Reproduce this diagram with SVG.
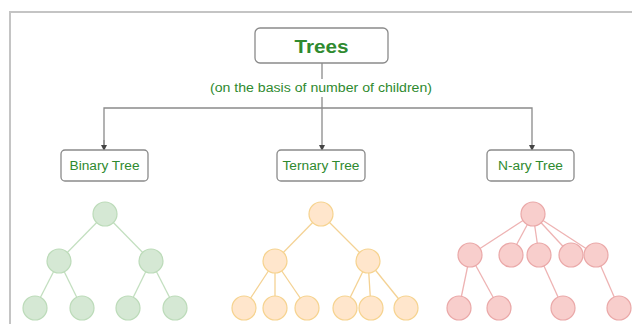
<svg xmlns="http://www.w3.org/2000/svg" width="632" height="324" viewBox="0 0 632 324">
  <defs>
    <marker id="arrow" viewBox="0 0 6 6" refX="5" refY="3" markerWidth="6" markerHeight="6" orient="auto" markerUnits="userSpaceOnUse">
      <path d="M0,0 L6,3 L0,6 Z" fill="#444"/>
    </marker>
    <style>
      .frame { fill: none; stroke: #c4c4c4; stroke-width: 2; }
      .box { fill: #fff; stroke: #8a8a8a; stroke-width: 1.3; }
      .conn { fill: none; stroke: #8a8a8a; stroke-width: 1.3; }
      .label { font-family: "Liberation Sans", Arial, sans-serif; fill: #2f8a2f; text-anchor: middle; }
      .title { font-size: 19px; font-weight: bold; }
      .sub { font-size: 12.5px; }
      .note { font-size: 12px; }
      .g circle { fill: #d5e8d4; stroke: #bcdbb9; stroke-width: 1.2; }
      .g line { stroke: #c3dfc0; stroke-width: 1.3; }
      .o circle { fill: #ffe6cc; stroke: #f6d38f; stroke-width: 1.2; }
      .o line { stroke: #f4d294; stroke-width: 1.3; }
      .r circle { fill: #f8cecc; stroke: #eaa8a8; stroke-width: 1.2; }
      .r line { stroke: #eeb3b3; stroke-width: 1.3; }
    </style>
  </defs>

  <rect width="632" height="324" fill="#fff"/>
  <!-- outer frame -->
  <path class="frame" d="M10,324 V12 H632"/>

  <!-- connectors -->
  <g id="connectors">
    <line class="conn" x1="322" y1="63" x2="322" y2="79"/>
    <line class="conn" x1="322" y1="97" x2="322" y2="150" marker-end="url(#arrow)"/>
    <path class="conn" d="M104,150 V108 H532 V150" marker-end="url(#arrow)"/>
    <line class="conn" x1="104" y1="140" x2="104" y2="150" marker-end="url(#arrow)"/>
  </g>

  <g id="trees-root">
    <rect class="box" x="255" y="28" width="133" height="35" rx="5"/>
    <text class="label title" x="321.5" y="53" textLength="54" lengthAdjust="spacingAndGlyphs">Trees</text>
  </g>
  <text class="label note" x="321" y="92" textLength="222" lengthAdjust="spacingAndGlyphs">(on the basis of number of children)</text>

  <g id="binary-label">
    <rect class="box" x="61" y="150" width="87" height="31" rx="4"/>
    <text class="label sub" x="104.5" y="170" textLength="70" lengthAdjust="spacingAndGlyphs">Binary Tree</text>
  </g>
  <g id="ternary-label">
    <rect class="box" x="277" y="150" width="88" height="31" rx="4"/>
    <text class="label sub" x="321" y="170" textLength="77" lengthAdjust="spacingAndGlyphs">Ternary Tree</text>
  </g>
  <g id="nary-label">
    <rect class="box" x="487" y="150" width="87" height="31" rx="4"/>
    <text class="label sub" x="530.5" y="170" textLength="65" lengthAdjust="spacingAndGlyphs">N-ary Tree</text>
  </g>

  <!-- binary tree -->
  <g id="binary-tree" class="g">
    <line x1="105" y1="214" x2="59" y2="261"/>
    <line x1="105" y1="214" x2="151" y2="261"/>
    <line x1="59" y1="261" x2="35" y2="308"/>
    <line x1="59" y1="261" x2="82" y2="308"/>
    <line x1="151" y1="261" x2="128" y2="308"/>
    <line x1="151" y1="261" x2="175" y2="308"/>
    <circle cx="105" cy="214" r="12"/>
    <circle cx="59" cy="261" r="12"/>
    <circle cx="151" cy="261" r="12"/>
    <circle cx="35" cy="308" r="12"/>
    <circle cx="82" cy="308" r="12"/>
    <circle cx="128" cy="308" r="12"/>
    <circle cx="175" cy="308" r="12"/>
  </g>

  <!-- ternary tree -->
  <g id="ternary-tree" class="o">
    <line x1="321" y1="214" x2="275" y2="261"/>
    <line x1="321" y1="214" x2="368" y2="261"/>
    <line x1="275" y1="261" x2="244" y2="308"/>
    <line x1="275" y1="261" x2="275" y2="308"/>
    <line x1="275" y1="261" x2="307" y2="308"/>
    <line x1="368" y1="261" x2="345" y2="308"/>
    <line x1="368" y1="261" x2="371" y2="308"/>
    <line x1="368" y1="261" x2="406" y2="308"/>
    <circle cx="321" cy="214" r="12"/>
    <circle cx="275" cy="261" r="12"/>
    <circle cx="368" cy="261" r="12"/>
    <circle cx="244" cy="308" r="12"/>
    <circle cx="275" cy="308" r="12"/>
    <circle cx="307" cy="308" r="12"/>
    <circle cx="345" cy="308" r="12"/>
    <circle cx="371" cy="308" r="12"/>
    <circle cx="406" cy="308" r="12"/>
  </g>

  <!-- n-ary tree -->
  <g id="nary-tree" class="r">
    <line x1="533" y1="214" x2="470" y2="255"/>
    <line x1="533" y1="214" x2="511" y2="255"/>
    <line x1="533" y1="214" x2="539" y2="255"/>
    <line x1="533" y1="214" x2="571" y2="255"/>
    <line x1="533" y1="214" x2="596" y2="255"/>
    <line x1="470" y1="255" x2="459" y2="308"/>
    <line x1="470" y1="255" x2="499" y2="308"/>
    <line x1="539" y1="255" x2="563" y2="308"/>
    <line x1="596" y1="255" x2="619" y2="308"/>
    <circle cx="533" cy="214" r="12"/>
    <circle cx="470" cy="255" r="12"/>
    <circle cx="511" cy="255" r="12"/>
    <circle cx="539" cy="255" r="12"/>
    <circle cx="571" cy="255" r="12"/>
    <circle cx="596" cy="255" r="12"/>
    <circle cx="459" cy="308" r="12"/>
    <circle cx="499" cy="308" r="12"/>
    <circle cx="563" cy="308" r="12"/>
    <circle cx="619" cy="308" r="12"/>
  </g>
</svg>
